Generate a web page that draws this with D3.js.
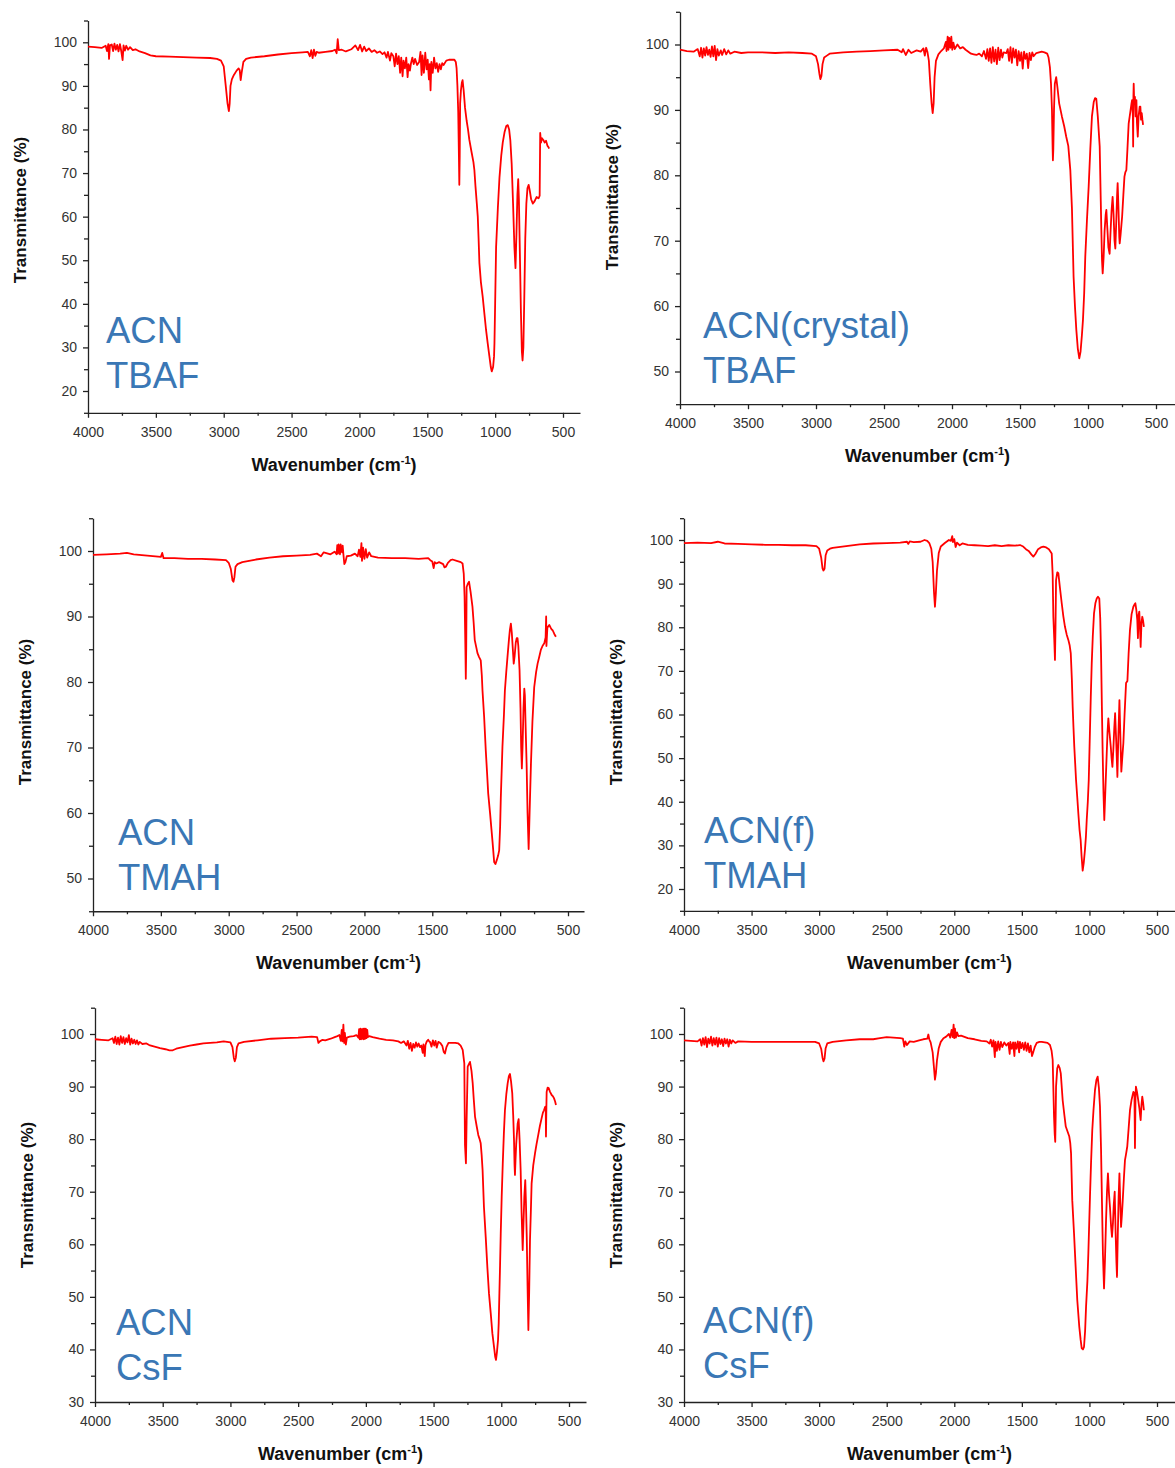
<!DOCTYPE html>
<html lang="en">
  <head>
    <meta charset="UTF-8" />
    <title>FTIR spectra</title>
    <style>
      body {
        margin: 0;
        background: #fff;
      }
      svg text {
        font-family: "Liberation Sans", Arial, sans-serif;
      }
      .domain,
      .tick line {
        stroke: #222;
        stroke-width: 1.3;
      }
      .tick text {
        fill: #333;
        font-size: 14px;
      }
      .spectrum {
        fill: none;
        stroke: #f00;
        stroke-width: 1.8;
        stroke-linejoin: round;
      }
      .axis-title {
        font-weight: bold;
        fill: #111;
      }
      .sample {
        fill: #3a77b5;
        font-size: 36.5px;
      }
    </style>
  </head>
  <body>
    <svg id="chart" width="1175" height="1468"></svg>
    <script src="https://cdnjs.cloudflare.com/ajax/libs/d3/7.8.5/d3.min.js"></script>
    <script>
      // tick labels
      const xTickLabels = [4000, 3500, 3000, 2500, 2000, 1500, 1000, 500];
      const xMinorTicks = [3750, 3250, 2750, 2250, 1750, 1250, 750];
      const yLabels15 = [20, 30, 40, 50, 60, 70, 80, 90, 100];
      const yLabels45 = [50, 60, 70, 80, 90, 100];
      const yLabels30 = [30, 40, 50, 60, 70, 80, 90, 100];

      const sampleNames = [
        ["ACN", "TBAF"],
        ["ACN(crystal)", "TBAF"],
        ["ACN", "TMAH"],
        ["ACN(f)", "TMAH"],
        ["ACN", "CsF"],
        ["ACN(f)", "CsF"],
      ];

      // spectra: [wavenumber (cm-1), transmittance (%)]
      const acnTbaf = [
        [4000,99],[3950,98.9],[3900,98.7],[3870,99.2],[3860,98],[3850,99.6],[3845,96.2],[3838,99.3],[3825,99.5],[3815,98],[3805,99.7],[3795,98.3],
        [3785,99.4],[3775,97.9],[3765,99.6],[3755,98],[3745,95.9],[3738,99.3],[3728,98.1],[3718,99.2],[3705,98.3],[3690,98.9],[3670,98.2],
        [3650,98.4],[3620,97.9],[3580,97.5],[3540,97],[3500,96.8],[3400,96.7],[3300,96.6],[3200,96.5],[3100,96.4],[3050,96.2],[3020,95.8],
        [3000,94.5],[2985,90],[2972,86],[2962,84.2],[2956,86],[2950,90],[2940,91.5],[2925,92.5],[2905,93.5],[2890,94],[2882,93.6],[2875,91.3],
        [2868,93],[2855,95.5],[2835,96.2],[2800,96.5],[2700,96.8],[2600,97.2],[2500,97.5],[2420,97.7],[2380,97.8],[2365,96.8],[2355,98.2],
        [2345,96.4],[2335,98.3],[2325,96.9],[2315,97.8],[2300,97.6],[2250,97.8],[2200,98],[2180,98.3],[2168,97.5],[2160,100.7],[2152,98.2],
        [2130,98.3],[2100,97.9],[2060,98.4],[2030,99.3],[2010,98.2],[1995,99.4],[1980,97.9],[1965,99],[1950,98],[1930,98.6],[1910,97.8],
        [1890,98.2],[1870,97.6],[1850,97.9],[1830,97.3],[1815,97.7],[1800,96.5],[1790,97.8],[1775,95.8],[1765,97.5],[1750,96.8],[1740,94.5],
        [1730,97.4],[1720,95],[1710,96.8],[1700,93],[1692,96.5],[1682,92.2],[1675,95.8],[1665,94],[1655,96.5],[1645,92],[1638,95],[1628,93.5],
        [1620,95.2],[1610,96.5],[1600,95],[1590,96.2],[1575,94.8],[1560,95.5],[1550,97.8],[1542,92.5],[1535,97],[1525,93],[1515,97.6],
        [1505,93.8],[1497,96],[1488,91.5],[1482,95],[1476,89],[1470,95.5],[1460,93],[1450,96.5],[1440,94],[1430,95.2],[1420,93.2],[1410,95],
        [1400,93.8],[1390,95.2],[1380,94.8],[1360,95.8],[1340,96],[1310,96],[1300,96],[1290,95.5],[1284,94],[1278,90],[1272,84],[1267,74],
        [1264,67.3],[1261,74],[1258,86],[1252,89],[1245,90.8],[1240,91.3],[1232,89],[1222,85],[1210,82],[1200,80],[1190,77.6],[1175,75],
        [1160,72.5],[1153,70.7],[1145,67],[1135,63],[1128,60],[1122,55],[1116,49.4],[1105,45],[1092,41.7],[1080,38],[1067,34],[1055,31],
        [1042,27.9],[1032,25.5],[1025,24.5],[1015,25.5],[1008,28],[1005,31],[1000,40],[993,53],[980,62],[968,69],[955,74],[944,77],
        [930,79.5],[918,80.8],[907,81],[897,80],[888,77.5],[878,72],[868,63],[858,53],[850,48.2],[843,56],[836,65],[830,68.6],[825,64],
        [818,52],[810,38],[803,29],[798,27],[792,30],[786,40],[778,55],[770,63],[762,66.5],[753,67.3],[745,66],[735,64],[722,63],[710,63.5],
        [695,64.5],[680,64.2],[672,64.8],[668,79.2],[662,77],[655,78],[645,77.6],[635,77],[625,77.4],[615,76.3],[608,76],[602,75.6]
      ];

      const acnCrystalTbaf = [
        [4000,99.2],[3950,99],[3900,98.9],[3870,99.3],[3855,98.2],[3845,99.5],[3835,98],[3825,99.4],[3815,98.3],[3805,99.6],[3795,98.4],
        [3785,99.2],[3775,98.1],[3765,99.7],[3755,98.2],[3745,99.8],[3735,97.6],[3725,99.3],[3715,98.3],[3700,99.1],[3690,98.4],[3675,99.3],
        [3660,98.5],[3645,99.1],[3630,98.6],[3600,98.9],[3550,98.7],[3500,98.8],[3400,98.8],[3300,98.7],[3200,98.8],[3100,98.7],[3030,98.6],
        [3000,98.2],[2985,97],[2975,95.5],[2968,94.7],[2960,95.2],[2952,97],[2940,98],[2920,98.3],[2900,98.6],[2800,98.8],[2700,98.9],
        [2600,99],[2500,99.1],[2400,99.2],[2370,98.8],[2360,99.3],[2340,98.4],[2320,99.2],[2300,98.7],[2260,99.1],[2230,98.9],[2210,99.4],
        [2200,98.3],[2190,99.5],[2180,98.8],[2170,97.5],[2160,94],[2150,91],[2142,89.5],[2135,91],[2128,95],[2118,97.5],[2100,98.5],
        [2080,99],[2060,99.4],[2045,100.4],[2040,99],[2032,101.2],[2026,99.2],[2020,101],[2012,99.5],[2005,101.2],[1998,99.2],[1990,100.3],
        [1980,99.3],[1960,100],[1940,99.4],[1920,99.6],[1900,99.2],[1880,98.9],[1860,98.6],[1840,98.5],[1820,98.4],[1800,98.6],[1780,98.2],
        [1765,99],[1750,97.8],[1740,99.3],[1730,97.5],[1720,99.4],[1710,97.2],[1700,99.6],[1690,97.4],[1680,99.2],[1670,97],[1660,99.5],
        [1650,97.6],[1640,99.2],[1630,98],[1620,98.8],[1600,98.7],[1590,99.3],[1580,97.5],[1570,99.6],[1560,97.2],[1550,99.4],[1540,98],
        [1530,99.2],[1520,96.8],[1510,99],[1500,97.5],[1490,98.8],[1480,96.3],[1470,98.9],[1460,97.8],[1450,98.6],[1440,96.4],[1430,98.7],
        [1420,97.6],[1410,98.8],[1400,98.2],[1380,98.7],[1360,98.8],[1340,98.9],[1320,98.8],[1300,98.6],[1290,98],[1280,96.5],[1272,94],
        [1265,90],[1260,84],[1258,82.3],[1255,84],[1250,90],[1244,94],[1234,95],[1225,93.5],[1212,91],[1192,89],[1175,87.5],[1160,85.9],
        [1145,84.5],[1130,80.8],[1118,74.9],[1106,64.5],[1096,60],[1086,56.4],[1075,53.5],[1064,52],[1055,53],[1045,55.5],[1037,57.9],
        [1028,62],[1020,67.6],[1008,73],[995,78.3],[983,84],[971,89],[958,91.2],[948,91.8],[939,91.7],[928,89],[914,84.4],[906,76],
        [902,71.7],[897,67],[892,65],[885,67.5],[878,71.5],[870,74],[865,74.7],[858,72],[850,69],[841,68],[835,71],[827,74.5],[819,76.7],
        [812,74],[805,70],[799,68.8],[792,73],[786,77],[782,78.8],[776,75],[770,70.5],[767,69.6],[760,71],[754,72.5],[749,73.7],[740,77],
        [732,79.8],[725,80.5],[718,80.8],[710,84],[701,87.9],[690,89.5],[680,91],[676,91.5],[670,89],[668,84.4],[666,92],[664,94],[660,91],
        [655,92],[650,89],[644,91.5],[640,88],[634,85.9],[628,89],[620,90.5],[615,90.5],[610,88.5],[605,89.5],[600,88.5],[595,87.7]
      ];

      const acnTmah = [
        [4000,99.4],[3900,99.5],[3800,99.6],[3750,99.7],[3700,99.5],[3600,99.3],[3500,99.1],[3490,99.7],[3480,98.9],[3400,98.9],[3300,98.8],
        [3200,98.8],[3100,98.7],[3020,98.6],[3000,98.2],[2985,97.3],[2972,95.5],[2965,95.3],[2958,96],[2950,97.6],[2935,98],[2900,98.3],
        [2800,98.7],[2700,99],[2600,99.2],[2500,99.3],[2400,99.4],[2350,99.6],[2320,99.2],[2300,99.8],[2250,99.5],[2220,99.9],[2205,99.5],
        [2200,100.9],[2195,99.6],[2190,101],[2180,99.5],[2175,101],[2165,99.8],[2160,100.8],[2155,99.5],[2148,98],[2140,98.3],[2130,99.2],
        [2100,99.3],[2070,99.6],[2050,99.2],[2040,100.2],[2030,99.1],[2022,101.2],[2018,98.5],[2010,100.5],[2000,98.8],[1990,100.3],
        [1980,99],[1965,99.8],[1950,99.2],[1900,99],[1800,98.9],[1700,98.9],[1600,98.8],[1530,98.9],[1515,98.6],[1500,98.4],[1490,97.4],
        [1482,98.3],[1470,98.1],[1450,98.3],[1420,98],[1410,97.5],[1400,97.6],[1385,98.2],[1365,98.6],[1351,98.7],[1320,98.5],[1290,98.3],
        [1277,98.1],[1268,96.5],[1262,93],[1256,85],[1253,80.5],[1250,85],[1247,94.5],[1238,95],[1229,95.3],[1218,93.8],[1204,91.5],
        [1195,89],[1187,86.4],[1175,85.2],[1167,84.4],[1155,83.8],[1143,83.3],[1135,81],[1130,78.7],[1118,74.7],[1106,69.6],[1096,66],
        [1088,63],[1074,59.9],[1064,57.5],[1056,55.6],[1044,52.5],[1035,52.2],[1025,52.8],[1015,53.5],[1007,54.3],[1000,58],[995,62.4],
        [983,70.1],[972,75],[965,78.7],[955,81.5],[946,83.8],[935,86.5],[928,88],[921,88.9],[914,87.5],[905,84.5],[900,82.8],[893,84],
        [885,86],[878,86.7],[872,86.7],[866,85.5],[857,81.8],[850,76],[845,70],[840,66.8],[835,70],[828,76],[822,79],[818,78],[812,73],
        [805,67.5],[798,60],[790,54.5],[783,60],[773,67.5],[762,74],[749,79.2],[735,81.5],[724,82.8],[710,84],[700,84.9],[688,85.5],
        [675,85.9],[665,86.8],[661,90],[659,85.5],[652,88.3],[645,88.5],[638,88.7],[628,88.3],[620,88],[613,87.9],[600,87.3],[589,86.9]
      ];

      const acnFTmah = [
        [4000,99.3],[3900,99.4],[3800,99.3],[3750,99.6],[3700,99.2],[3600,99.1],[3500,99],[3400,98.9],[3300,98.9],[3200,98.8],[3100,98.8],
        [3020,98.6],[3000,98],[2985,96],[2975,93.5],[2968,93],[2960,93.4],[2952,96.5],[2940,97.6],[2920,98],[2900,98.2],[2800,98.6],
        [2700,99],[2600,99.2],[2500,99.3],[2400,99.4],[2350,99.6],[2340,99.1],[2330,99.7],[2300,99.5],[2250,99.6],[2220,100],[2200,99.8],
        [2185,99.3],[2170,98],[2160,95],[2150,88],[2143,84.7],[2136,88],[2128,93],[2115,97],[2100,98.5],[2070,99.3],[2040,100],[2025,99.8],
        [2015,100.9],[2010,99.5],[2000,100.2],[1990,98.4],[1980,99.4],[1960,98.8],[1940,99.2],[1900,98.9],[1850,98.8],[1800,98.7],
        [1750,98.6],[1700,98.8],[1650,98.6],[1600,98.8],[1550,98.7],[1514,98.85],[1490,98.5],[1470,97.9],[1450,97.5],[1430,96.7],
        [1415,96.2],[1400,96.8],[1380,97.9],[1360,98.3],[1341,98.5],[1320,98.3],[1300,97.9],[1279,96.9],[1272,92],[1267,82.4],[1260,77],
        [1255,72.5],[1251,80],[1247,90.8],[1238,92.6],[1230,92.4],[1218,89],[1205,85.5],[1193,82.5],[1181,80.1],[1168,78.3],[1156,77.1],
        [1146,75.8],[1138,74],[1130,68],[1124,61.8],[1118,57],[1112,52.6],[1105,48.5],[1099,45],[1090,41],[1082,37.3],[1073,33.5],
        [1065,31.2],[1058,27.5],[1050,24.2],[1042,26],[1033,29],[1026,32],[1020,35.8],[1012,40],[1005,45],[996,56.4],[990,64],[983,71.7],
        [975,78],[966,83.2],[956,85.5],[946,86.6],[937,87],[927,86.6],[920,82],[914,74],[908,62],[902,51.1],[896,42],[890,35.8],[884,41],
        [878,46],[872,51.1],[866,56],[860,59.1],[852,56],[842,52.6],[836,50],[830,48],[823,52],[816,57],[810,60.3],[802,54],[793,45.7],
        [786,55],[778,63.3],[771,55],[764,46.9],[756,50.5],[749,53.4],[740,60],[729,67.2],[719,67.7],[710,74],[700,79.4],[688,83],
        [675,84.7],[667,85.2],[660,85.5],[653,84],[646,81.7],[641,77.5],[636,82.8],[631,83.6],[626,80],[621,75.5],[615,81],[609,82.4],
        [603,81.5],[597,80.1]
      ];

      const acnCsf = [
        [4000,99],[3950,98.9],[3900,98.8],[3870,99.2],[3860,98.3],[3850,99.5],[3840,98.1],[3830,99.3],[3820,98],[3810,99.6],[3800,98.3],
        [3790,99.4],[3780,98.1],[3770,99.2],[3760,98.4],[3750,99.8],[3740,98],[3730,99.1],[3720,98.2],[3710,98.9],[3700,98.1],[3690,98.8],
        [3680,98],[3670,98.5],[3650,98.1],[3620,98.2],[3600,97.9],[3560,97.6],[3520,97.3],[3480,97.1],[3450,96.9],[3426,96.9],[3400,97.2],
        [3350,97.5],[3300,97.8],[3250,98],[3200,98.2],[3150,98.3],[3100,98.4],[3050,98.6],[3000,98.4],[2985,97.5],[2975,95.5],[2968,94.8],
        [2960,95.5],[2952,97.5],[2940,98.2],[2900,98.5],[2800,98.8],[2700,99.1],[2600,99.2],[2500,99.3],[2400,99.5],[2360,99.4],[2350,98.3],
        [2340,98.6],[2320,98.9],[2300,98.8],[2260,99.1],[2230,99.4],[2210,99.6],[2195,99.8],[2185,98.7],[2178,100.8],[2172,98.6],
        [2166,101.8],[2160,98.3],[2155,100.2],[2148,98],[2140,99.3],[2120,99.5],[2090,99.6],[2070,99.8],[2055,99.3],[2050,100.9],[2045,99],
        [2040,101],[2035,99],[2030,100.9],[2025,99.1],[2020,101],[2015,99],[2010,101],[2005,99.1],[2000,101],[1995,99.2],[1990,100.8],
        [1985,99.4],[1975,99.6],[1950,99.4],[1900,99.1],[1850,98.9],[1800,98.8],[1760,98.6],[1740,98.3],[1720,98.6],[1700,97.8],[1690,98.7],
        [1680,97.2],[1670,98.3],[1660,96.8],[1650,98.1],[1640,97.4],[1630,98.4],[1620,97.6],[1610,98.2],[1600,97.5],[1590,97.8],[1580,96.4],
        [1575,98],[1565,95.8],[1560,97.9],[1550,98.6],[1540,98.9],[1530,98.5],[1526,98.5],[1515,97.6],[1505,98.8],[1495,97.8],[1485,98.7],
        [1477,97.4],[1465,98.5],[1450,98.3],[1435,97.7],[1425,96.6],[1416,96.3],[1405,97.5],[1390,98.3],[1366,98.3],[1340,98.3],[1317,98.2],
        [1300,97.8],[1285,97],[1273,94.4],[1268,78.9],[1261,75.4],[1256,83.6],[1248,93.8],[1231,94.7],[1220,93],[1211,90.6],[1203,87.5],
        [1194,84.3],[1182,82.5],[1170,80.8],[1160,80],[1152,79.2],[1145,77],[1138,74.1],[1128,67.1],[1115,61.4],[1103,55.7],[1091,50.7],
        [1078,46.9],[1066,43.1],[1051,39.9],[1045,38.6],[1039,38],[1032,39.5],[1024,41.8],[1019,45],[1014,50.7],[1009,56],[1004,62.1],
        [997,69],[989,75.4],[981,81],[973,85.5],[963,88.5],[953,90.6],[944,92],[936,92.4],[928,91],[919,88.7],[912,84.5],[906,79.8],
        [902,75],[899,73.2],[895,76],[890,79],[886,80.5],[879,83],[872,83.8],[865,80],[857,74.1],[850,66],[842,58.9],[836,64],[830,69],
        [823,72.2],[818,68],[812,61.4],[806,52],[800,43.7],[794,51],[788,60.8],[782,66],[776,71.6],[764,75],[751,77.3],[740,79],[727,80.8],
        [715,82.5],[702,84],[693,85],[685,85.5],[675,86.2],[672,86.2],[670,80.5],[667,86],[665,89],[658,89.8],[650,89.7],[640,89],
        [628,88.4],[620,88.2],[611,87.8],[603,87.2],[596,86.5]
      ];

      const acnFCsf = [
        [4000,98.8],[3950,98.7],[3900,98.6],[3880,99],[3870,97.8],[3860,99.2],[3850,98],[3840,99.4],[3830,97.5],[3820,99.1],[3810,98.2],
        [3800,99.5],[3790,97.8],[3780,99.2],[3770,98],[3760,99.3],[3750,97.6],[3740,99.2],[3730,98.1],[3720,99],[3710,97.7],[3700,99.1],
        [3690,98.2],[3680,99],[3670,97.6],[3660,98.9],[3650,98.2],[3640,98.8],[3620,98.3],[3600,98.6],[3500,98.5],[3400,98.5],[3300,98.5],
        [3200,98.5],[3100,98.5],[3030,98.5],[3000,98.2],[2985,97.2],[2975,95.5],[2968,94.8],[2960,95.3],[2952,97.3],[2940,98.2],[2900,98.5],
        [2800,98.8],[2700,99],[2600,99],[2550,99.2],[2500,99.4],[2450,99.3],[2400,99.2],[2380,99.1],[2370,97.6],[2362,98.6],[2350,97.9],
        [2330,98.6],[2300,98.5],[2260,98.8],[2230,99],[2200,99.1],[2192,99.9],[2185,99],[2175,98.4],[2160,96.5],[2150,93.5],[2143,91.3],
        [2136,92.5],[2128,95],[2115,97.3],[2100,98.5],[2080,99.2],[2060,99.5],[2040,100],[2030,99.3],[2020,100.8],[2012,99.4],[2005,101.8],
        [2000,99.2],[1995,101],[1988,99.3],[1980,100.3],[1970,99.6],[1950,99.7],[1900,99.2],[1850,99],[1800,98.7],[1760,98.6],[1740,98.2],
        [1730,98.9],[1720,97.6],[1710,98.8],[1700,95.6],[1695,98.5],[1685,96.8],[1675,98.6],[1665,97],[1655,98.5],[1645,97.5],[1630,98.4],
        [1615,97.8],[1600,98.3],[1590,96.2],[1585,98.5],[1575,97.2],[1565,98.4],[1555,95.8],[1550,98.4],[1540,97.2],[1530,98.6],[1520,96.5],
        [1514,98.5],[1505,97.3],[1495,98.3],[1485,97],[1475,98.4],[1465,96.8],[1455,98.2],[1445,96.5],[1435,97.8],[1425,95.8],[1415,96.6],
        [1405,97.5],[1390,98.3],[1370,98.5],[1353,98.5],[1330,98.4],[1310,98.3],[1292,97.9],[1280,96.8],[1272,95.1],[1262,84.3],[1257,81],
        [1253,79.5],[1250,84],[1247,90],[1238,93.5],[1230,94.1],[1220,93.5],[1212,92.5],[1198,87.4],[1185,84.5],[1175,82.4],[1160,81.3],
        [1149,80.5],[1142,79.3],[1136,77.3],[1127,68.4],[1114,62.1],[1102,55.7],[1090,49.4],[1075,44.3],[1065,41.8],[1057,40.2],[1048,40],
        [1040,40.5],[1032,43.5],[1025,48.1],[1015,53],[1008,58.3],[996,69],[988,75.5],[979,81.7],[970,85.5],[959,89.3],[948,91.3],
        [939,91.9],[930,89.8],[922,86.2],[914,78],[907,67.8],[900,58],[892,51.6],[885,57],[877,64.6],[870,70],[863,73.5],[855,69.5],
        [848,67.1],[840,63.5],[833,61.4],[826,64],[820,67.5],[813,70],[806,62],[800,56.5],[796,53.8],[790,62],[784,69],[778,73.5],[772,68],
        [766,63.3],[760,65.5],[754,68.1],[745,72.5],[737,76],[730,77],[720,78.6],[710,82],[700,85.5],[688,87.5],[675,89],[667,88.8],
        [663,78.3],[659,88],[656,90],[648,89],[639,87.4],[630,85.8],[625,84.5],[621,83.6],[615,86.5],[609,88.1],[603,87],[597,85.5]
      ];

      // layout of the six panels (pixel positions)
      const panels = [
        { data: acnTbaf, name: sampleNames[0], yLabels: yLabels15, yMin: 15, left: 88, x500: 563, right: 580, y100: 42.3, yRef: [20, 391], titleY: 210, annX: 106, annY: 343 },
        { data: acnCrystalTbaf, name: sampleNames[1], yLabels: yLabels45, yMin: 45, left: 680, x500: 1156, right: 1175, y100: 44.5, yRef: [50, 371.5], titleY: 197, annX: 703, annY: 338 },
        { data: acnTmah, name: sampleNames[2], yLabels: yLabels45, yMin: 45, left: 93, x500: 568, right: 584, y100: 551, yRef: [50, 878.5], titleY: 712, annX: 118, annY: 845 },
        { data: acnFTmah, name: sampleNames[3], yLabels: yLabels15, yMin: 15, left: 684, x500: 1157, right: 1175, y100: 540, yRef: [20, 889], titleY: 712, annX: 704, annY: 843 },
        { data: acnCsf, name: sampleNames[4], yLabels: yLabels30, yMin: 30, left: 95, x500: 569, right: 586, y100: 1034, yRef: [30, 1402], titleY: 1195, annX: 116, annY: 1335 },
        { data: acnFCsf, name: sampleNames[5], yLabels: yLabels30, yMin: 30, left: 684, x500: 1157, right: 1175, y100: 1034, yRef: [30, 1402], titleY: 1195, annX: 703, annY: 1333 },
      ];

      const svg = d3.select("#chart");

      panels.forEach((p) => {
        // x: 4000 -> left, 500 -> x500, axis line runs on to "right"
        let pxPerWn = (p.x500 - p.left) / 3500;
        let wnEnd = 500 - (p.right - p.x500) / pxPerWn;
        let x = d3.scaleLinear().domain([4000, wnEnd]).range([p.left, p.right]);

        let pxPerUnit = (p.yRef[1] - p.y100) / (100 - p.yRef[0]);
        let y = d3
          .scaleLinear()
          .domain([p.yMin, 105])
          .range([p.y100 + (100 - p.yMin) * pxPerUnit, p.y100 - 5 * pxPerUnit]);

        let g = svg.append("g");
        let bottom = y(p.yMin);

        // minor ticks
        g.append("g")
          .attr("transform", `translate(0,${bottom})`)
          .call(d3.axisBottom(x).tickValues(xMinorTicks).tickSize(3).tickSizeOuter(0).tickFormat(""))
          .call((s) => s.select(".domain").remove());
        let yMinor = d3.range(p.yMin, 105.01, 5).filter((v) => !p.yLabels.includes(v));
        g.append("g")
          .attr("transform", `translate(${p.left},0)`)
          .call(d3.axisLeft(y).tickValues(yMinor).tickSize(4).tickSizeOuter(0).tickFormat(""))
          .call((s) => s.select(".domain").remove());

        // major axes
        g.append("g")
          .attr("transform", `translate(0,${bottom})`)
          .call(
            d3.axisBottom(x).tickValues(xTickLabels).tickSize(5).tickSizeOuter(0).tickPadding(9).tickFormat(d3.format("d"))
          );
        g.append("g")
          .attr("transform", `translate(${p.left},0)`)
          .call(d3.axisLeft(y).tickValues(p.yLabels).tickSize(5).tickSizeOuter(0).tickPadding(6));

        // spectrum
        let line = d3
          .line()
          .x((d) => x(d[0]))
          .y((d) => y(d[1]));
        let pts = p.data.slice().sort((a, b) => b[0] - a[0]);
        g.append("path").attr("class", "spectrum").attr("d", line(pts));

        // axis titles
        let xt = g
          .append("text")
          .attr("class", "axis-title")
          .attr("x", (p.left + p.right) / 2)
          .attr("y", bottom + 58)
          .attr("text-anchor", "middle")
          .style("font-size", "18px");
        xt.append("tspan").text("Wavenumber (cm");
        xt.append("tspan").attr("dy", -7).style("font-size", "11px").text("-1");
        xt.append("tspan").attr("dy", 7).text(")");

        g.append("text")
          .attr("class", "axis-title")
          .attr("transform", `translate(${p.left - 62},${p.titleY}) rotate(-90)`)
          .attr("text-anchor", "middle")
          .style("font-size", "17px")
          .text("Transmittance (%)");

        // sample names
        p.name.forEach((t, i) => {
          g.append("text")
            .attr("class", "sample")
            .attr("x", p.annX)
            .attr("y", p.annY + i * 45)
            .text(t);
        });
      });
    </script>
  </body>
</html>
